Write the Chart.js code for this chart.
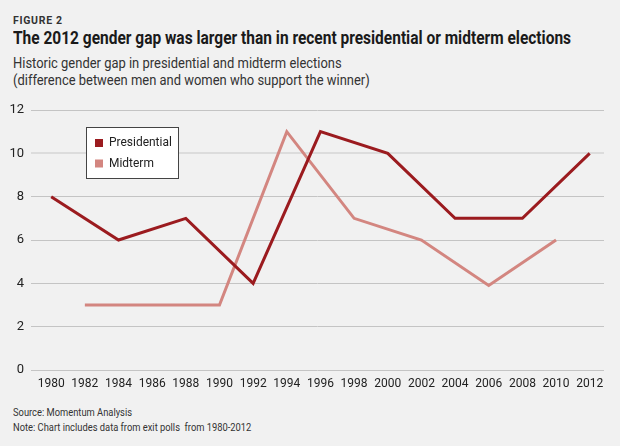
<!DOCTYPE html>
<html>
<head>
<meta charset="utf-8">
<script src="https://cdn.jsdelivr.net/npm/chart.js@4"></script>
<style>
  html, body { margin:0; padding:0; }
  body { width:620px; height:446px; background:#f1f1f1; position:relative; overflow:hidden; font-family: Roboto, "Open Sans", sans-serif; color:#222; }
  .t { position:absolute; left:13px; white-space:nowrap; transform-origin:0 0; }
  #fig { top:15px; font-size:10.5px; font-weight:700; letter-spacing:0.7px; color:#333; line-height:12px; }
  #title { top:28px; font-size:18px; font-weight:700; color:#1a1a1a; line-height:20px; transform:scaleX(0.86); }
  #sub1 { top:55px; font-size:14px; color:#333; line-height:16px; transform:scaleX(0.925); }
  #sub2 { top:72px; font-size:14px; color:#333; line-height:16px; transform:scaleX(0.925); }
  #src { top:406px; font-size:10.5px; color:#333; line-height:13px; transform:scaleX(0.89); }
  #note { top:421px; font-size:10.5px; color:#333; line-height:13px; transform:scaleX(0.89); }
  #wrap { position:absolute; left:0; top:95px; width:620px; height:300px; }
</style>
</head>
<body>
<div class="t" id="fig">FIGURE 2</div>
<div class="t" id="title">The 2012 gender gap was larger than in recent presidential or midterm elections</div>
<div class="t" id="sub1">Historic gender gap in presidential and midterm elections</div>
<div class="t" id="sub2">(difference between men and women who support the winner)</div>
<div id="wrap"><canvas id="c" width="620" height="300"></canvas></div>
<div class="t" id="src">Source: Momentum Analysis</div>
<div class="t" id="note">Note: Chart includes data from exit polls&nbsp; from 1980-2012</div>
<script>
const tickYears = [1980,1982,1984,1986,1988,1990,1992,1994,1996,1998,2000,2002,2004,2006,2008,2010,2012];
const presYears = [1980,1984,1988,1992,1996,2000,2004,2008,2012];
const presValues = [8,6,7,4,11,10,7,7,10];
const midYears = [1982,1986,1990,1994,1998,2002,2006,2010];
const midValues = [3,3,3,11,7,6,3.9,6];
const yTicks = [0,2,4,6,8,10,12];
const seriesNames = ["Presidential","Midterm"];
const seriesColors = ["#9b1b1f","#d38680"];

const legendBox = {
  id:'legendBox',
  afterDatasetsDraw(chart){
    const ctx = chart.ctx;
    const x0 = 86, y0 = 32, w = 92, h = 51;
    ctx.save();
    ctx.fillStyle = '#ffffff';
    ctx.fillRect(x0, y0, w, h);
    ctx.strokeStyle = '#444';
    ctx.lineWidth = 1;
    ctx.strokeRect(x0+0.5, y0+0.5, w, h);
    ctx.font = '13px Roboto, "Open Sans", sans-serif';
    ctx.textBaseline = 'middle';
    chart.data.datasets.forEach((ds,i)=>{
      const cy = y0 + 16 + i*20.5;
      ctx.fillStyle = ds.borderColor;
      ctx.fillRect(x0+9, cy-4, 8, 8);
      ctx.fillStyle = '#222';
      ctx.save();
      ctx.translate(x0+23, cy);
      ctx.scale(0.92,1);
      ctx.fillText(ds.label, 0, 0);
      ctx.restore();
    });
    ctx.restore();
  }
};

new Chart(document.getElementById('c'), {
  type:'line',
  data:{
    datasets:[
      { label:seriesNames[0], data:presYears.map((x,i)=>({x, y:presValues[i]})), borderColor:seriesColors[0], backgroundColor:seriesColors[0], borderWidth:3, pointRadius:0, tension:0, order:1 },
      { label:seriesNames[1], data:midYears.map((x,i)=>({x, y:midValues[i]})), borderColor:seriesColors[1], backgroundColor:seriesColors[1], borderWidth:3, pointRadius:0, tension:0, order:2 }
    ]
  },
  options:{
    responsive:false,
    animation:false,
    devicePixelRatio:1,
    layout:{ padding:{ top:15, right:16, left:0, bottom:0 } },
    plugins:{ legend:{display:false}, tooltip:{enabled:false}, title:{display:false} },
    scales:{
      x:{
        type:'linear',
        min:1978.8, max:2012.85,
        afterBuildTicks: s => { s.ticks = tickYears.map(v=>({value:v})); },
        afterFit: s => { s.height = 25; },
        grid:{ display:false, drawTicks:false },
        border:{ display:false },
        ticks:{ padding:7, color:'#222', font:{ family:'Roboto', size:12 }, callback: v => String(v), maxRotation:0, autoSkip:false }
      },
      y:{
        min:0, max:12,
        afterBuildTicks: s => { s.ticks = yTicks.map(v=>({value:v})); },
        afterFit: s => { s.width = 31; },
        grid:{ drawTicks:false, color: c => c.tick && c.tick.value===10 ? '#dcdcdc' : '#c4c4c4', lineWidth: c => c.tick && c.tick.value===10 ? 2 : 1 },
        border:{ display:false },
        ticks:{ padding:7, color:'#222', font:{ family:'Roboto', size:13 } }
      }
    }
  },
  plugins:[legendBox]
});
</script>
</body>
</html>
